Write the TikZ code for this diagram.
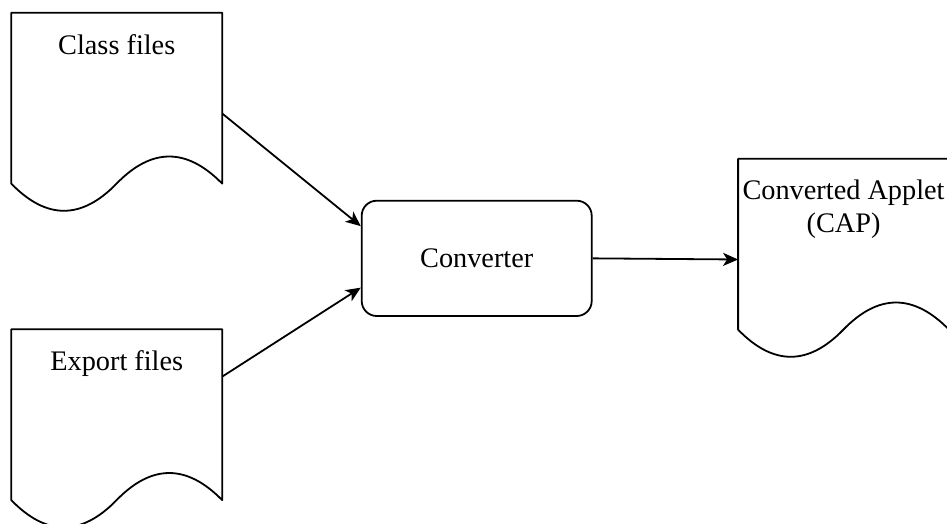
\documentclass[tikz,border=0pt]{standalone}
\usepackage{fontspec}
\setmainfont{Liberation Serif}
\usetikzlibrary{arrows.meta,calc}
\tikzset{
  docarea/.style={rectangle, inner sep=0pt, minimum width=210.5pt, minimum height=201pt},
  docline/.style={line width=1.8pt, line join=round},
  convbox/.style={draw, line width=1.8pt, rounded corners=15pt, minimum width=230pt, minimum height=115.3pt, inner sep=0pt},
  lbl/.style={inner sep=0pt, align=center},
  arr/.style={line width=1.8pt, -{Stealth[length=15pt, width=13pt, inset=4pt]}}
}
\newcommand\mydocshape[1]{%
  \draw[docline] (#1.north west) -- (#1.north east) -- ([shift={(0,170.85)}]#1.north east)
    .. controls ([shift={(175.42,134.67)}]#1.north west) and ([shift={(140.33,134.67)}]#1.north west) .. ([shift={(105.25,170.85)}]#1.north west)
    .. controls ([shift={(70.17,207.03)}]#1.north west) and ([shift={(35.08,207.03)}]#1.north west) .. ([shift={(0,170.85)}]#1.north west) -- cycle;}
\begin{document}
\begin{tikzpicture}[x=1pt, y=-1pt, font=\fontsize{28.3}{33}\selectfont]
\clip (0,0) rectangle (947,524);
\node[docarea] (class) at (116.75,113.5) {};
\node[docarea] (export) at (116.75,430) {};
\node[docarea] (cap) at (843.55,259.5) {};
\mydocshape{class}
\mydocshape{export}
\mydocshape{cap}
\node[lbl, anchor=base] (classtxt) at ([yshift=-42pt]class.north) {Class files};
\node[lbl, anchor=base] (exporttxt) at ([yshift=-41pt]export.north) {Export files};
\node[lbl, anchor=base] (captxt) at ([yshift=-74pt]cap.north) {Converted Applet\\(CAP)};
\node[convbox] (conv) at (476.7,258.35) {Converter};
\draw[arr] (class.east) -- ($(conv.north west)!0.225!(conv.south west)$);
\draw[arr] ($(export.north east)!0.235!(export.south east)$) -- ($(conv.north west)!0.75!(conv.south west)$);
\draw[arr] (conv.east) -- (cap.west);
\end{tikzpicture}
\end{document}
